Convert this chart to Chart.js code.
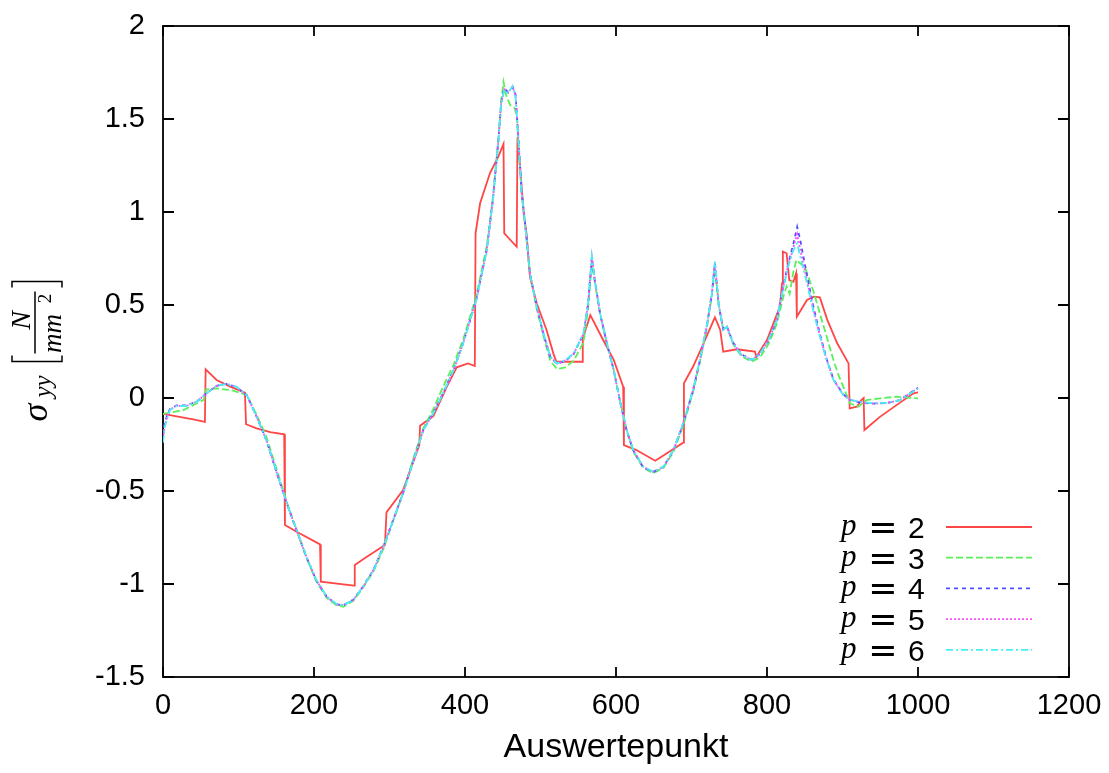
<!DOCTYPE html>
<html>
<head>
<meta charset="utf-8">
<title>sigma_yy</title>
<script src="https://cdn.jsdelivr.net/npm/chart.js@4.4.1/dist/chart.umd.min.js"></script>
<style>
  html, body { margin: 0; padding: 0; background: #fff; }
  #chart { display: block; }
</style>
</head>
<body>
<canvas id="chart" width="1109" height="773"></canvas>
<script>
// axis ticks
const xTicks = [0, 200, 400, 600, 800, 1000, 1200];
const yTicks = [-1.5, -1, -0.5, 0, 0.5, 1, 1.5, 2];

// p = 2 (piecewise, jumps at element borders)
const p2X = [0, 20, 40, 55.5, 56.5, 71, 89, 108.5, 110, 124,
  142, 160.5, 161.5, 177, 208, 209, 253, 254, 270, 294,
  296, 318, 339.5, 340.5, 358, 376, 389, 404, 413, 414,
  420, 433, 444, 451, 452, 468.5, 469.5, 473, 478, 481.5,
  486, 495, 508, 517, 521, 555, 556, 566, 583, 597,
  609.5, 610.5, 627, 652, 671, 689, 690, 702, 716, 731,
  738, 742, 760, 784, 786, 800, 817, 820, 821, 826,
  829.5, 835, 838.5, 839.5, 853, 862, 870, 880, 893, 908,
  909.5, 919, 925, 928, 929, 950, 972, 994, 1000];
const p2Y = [-0.085, -0.1, -0.115, -0.128, 0.154, 0.097, 0.061, 0.029, -0.141, -0.163,
  -0.184, -0.195, -0.683, -0.719, -0.787, -0.988, -1.009, -0.898, -0.853, -0.79,
  -0.615, -0.495, -0.253, -0.149, -0.097, 0.061, 0.165, 0.186, 0.172, 0.885,
  1.047, 1.208, 1.297, 1.366, 0.885, 0.813, 1.40, 1.244, 0.98, 0.885,
  0.652, 0.509, 0.366, 0.24, 0.195, 0.195, 0.32, 0.446, 0.312, 0.205,
  0.061, -0.253, -0.28, -0.337, -0.288, -0.24, 0.079, 0.168, 0.294, 0.434,
  0.366, 0.249, 0.262, 0.249, 0.222, 0.312, 0.491, 0.617, 0.787, 0.778,
  0.634, 0.625, 0.67, 0.437, 0.527, 0.545, 0.541, 0.419, 0.294, 0.186,
  -0.056, -0.047, -0.011, 0.0, -0.172, -0.1, -0.037, 0.025, 0.03];

// p = 3
const p3X = [0, 27, 49, 54, 57, 71, 93, 111, 124, 137,
  151, 164, 177, 190, 203, 217, 230, 239, 252, 265,
  279, 292, 305, 318, 332, 345, 358, 371, 385, 398,
  415, 429, 437, 444, 448, 451, 455, 460, 466, 469,
  471, 475, 480, 486, 495, 504, 513, 522, 533, 544,
  557, 563, 568, 572, 579, 588, 597, 605, 614, 623,
  636, 649, 663, 676, 689, 702, 711, 720, 727, 731,
  736, 742, 747, 755, 766, 780, 791, 802, 813, 822,
  826, 830, 835, 839, 845, 850, 861, 870, 879, 888,
  895, 901, 910, 921, 932, 950, 972, 1000];
const p3Y = [-0.085, -0.065, -0.02, -0.01, 0.045, 0.052, 0.04, 0.016, -0.09, -0.21,
  -0.39, -0.56, -0.71, -0.86, -0.985, -1.075, -1.115, -1.122, -1.09, -1.02,
  -0.93, -0.81, -0.66, -0.51, -0.32, -0.16, -0.06, 0.06, 0.18, 0.32,
  0.55, 0.82, 1.08, 1.38, 1.6, 1.7, 1.62, 1.575, 1.557, 1.5,
  1.35, 1.1, 0.92, 0.67, 0.48, 0.33, 0.2, 0.155, 0.165, 0.2,
  0.3, 0.48, 0.72, 0.62, 0.45, 0.29, 0.15, -0.01, -0.17, -0.29,
  -0.375, -0.405, -0.375, -0.29, -0.15, 0.03, 0.19, 0.37, 0.55, 0.7,
  0.5, 0.37, 0.38, 0.29, 0.225, 0.195, 0.22, 0.29, 0.4, 0.55,
  0.6, 0.56, 0.68, 0.742, 0.72, 0.706, 0.58, 0.455, 0.33, 0.204,
  0.12, 0.061, -0.029, -0.047, -0.011, -0.002, 0.007, -0.002];

// p = 4, 5, 6 share the evaluation points
const pX = [0, 2, 5, 9, 18, 31, 45, 58, 71, 84,
  97, 111, 124, 137, 151, 164, 177, 190, 203, 217,
  230, 239, 252, 265, 279, 292, 305, 318, 332, 345,
  358, 371, 385, 398, 415, 429, 437, 444, 448, 452,
  457, 463, 467, 471, 475, 480, 486, 495, 504, 513,
  522, 533, 544, 557, 563, 568, 572, 579, 588, 597,
  605, 614, 623, 636, 649, 663, 676, 689, 702, 711,
  720, 727, 731, 736, 742, 747, 755, 766, 780, 791,
  802, 813, 822, 828, 835, 840, 844, 852, 861, 870,
  879, 888, 901, 910, 923, 941, 959, 976, 990, 998, 1000];
const p4Y = [-0.20, -0.14, -0.10, -0.06, -0.04, -0.04, -0.018, 0.027, 0.066, 0.076,
  0.06, 0.014, -0.10, -0.228, -0.407, -0.568, -0.712, -0.855, -0.98, -1.07,
  -1.11, -1.114, -1.085, -1.013, -0.922, -0.797, -0.653, -0.51, -0.33, -0.17,
  -0.08, 0.027, 0.153, 0.30, 0.53, 0.80, 1.07, 1.375, 1.59, 1.665,
  1.645, 1.672, 1.63, 1.38, 1.11, 0.925, 0.672, 0.49, 0.345, 0.22,
  0.184, 0.2, 0.237, 0.345, 0.505, 0.755, 0.63, 0.452, 0.292, 0.15,
  -0.012, -0.174, -0.283, -0.372, -0.398, -0.37, -0.282, -0.138, 0.04, 0.2,
  0.38, 0.56, 0.725, 0.5, 0.37, 0.385, 0.30, 0.235, 0.205, 0.238,
  0.31, 0.42, 0.61, 0.72, 0.83, 0.92, 0.85, 0.68, 0.5, 0.345,
  0.21, 0.1, 0.02, -0.01, -0.025, -0.03, -0.027, -0.012, 0.028, 0.05, 0.055];
const p5Y = [-0.22, -0.15, -0.11, -0.063, -0.042, -0.042, -0.019, 0.026, 0.065, 0.076,
  0.06, 0.015, -0.10, -0.227, -0.406, -0.567, -0.711, -0.854, -0.979, -1.069,
  -1.109, -1.113, -1.085, -1.014, -0.923, -0.798, -0.654, -0.511, -0.331, -0.171,
  -0.081, 0.026, 0.152, 0.30, 0.528, 0.798, 1.067, 1.372, 1.587, 1.66,
  1.64, 1.675, 1.625, 1.375, 1.105, 0.923, 0.671, 0.49, 0.346, 0.221,
  0.185, 0.202, 0.238, 0.346, 0.507, 0.758, 0.632, 0.453, 0.293, 0.15,
  -0.012, -0.173, -0.282, -0.37, -0.397, -0.37, -0.281, -0.137, 0.042, 0.202,
  0.382, 0.562, 0.73, 0.505, 0.368, 0.384, 0.297, 0.233, 0.204, 0.239,
  0.311, 0.42, 0.605, 0.712, 0.81, 0.88, 0.8, 0.65, 0.485, 0.337,
  0.207, 0.098, 0.018, -0.01, -0.022, -0.03, -0.026, -0.011, 0.026, 0.048, 0.05];
const p6Y = [-0.24, -0.16, -0.118, -0.065, -0.043, -0.043, -0.02, 0.025, 0.065, 0.075,
  0.061, 0.016, -0.10, -0.226, -0.405, -0.566, -0.71, -0.853, -0.978, -1.068,
  -1.108, -1.113, -1.086, -1.015, -0.925, -0.80, -0.656, -0.513, -0.333, -0.172,
  -0.082, 0.025, 0.151, 0.30, 0.527, 0.796, 1.065, 1.369, 1.584, 1.656,
  1.638, 1.677, 1.62, 1.369, 1.10, 0.921, 0.67, 0.491, 0.348, 0.222,
  0.186, 0.204, 0.24, 0.348, 0.509, 0.76, 0.634, 0.455, 0.294, 0.151,
  -0.011, -0.172, -0.28, -0.369, -0.396, -0.369, -0.28, -0.136, 0.043, 0.204,
  0.383, 0.563, 0.733, 0.509, 0.366, 0.383, 0.294, 0.231, 0.204, 0.24,
  0.312, 0.419, 0.599, 0.706, 0.796, 0.832, 0.76, 0.634, 0.473, 0.33,
  0.204, 0.097, 0.016, -0.01, -0.02, -0.029, -0.025, -0.011, 0.025, 0.045, 0.05];

const pts = (xs, ys) => xs.map((x, i) => ({ x: x, y: ys[i] }));

function series(label, xs, ys, color, dash, order) {
    return {
        label: label,
        data: pts(xs, ys),
        borderColor: color,
        borderWidth: 1.8,
        borderDash: dash,
        pointRadius: 0,
        fill: false,
        tension: 0,
        order: order,
    };
}

const datasets = [
    series("p = 2", p2X, p2Y, "rgb(255, 70, 70)", [], 5),
    series("p = 3", p3X, p3Y, "rgb(90, 240, 90)", [7, 3], 4),
    series("p = 4", pX, p4Y, "rgb(80, 80, 255)", [4, 4], 3),
    series("p = 5", pX, p5Y, "rgb(255, 80, 255)", [2, 2], 2),
    series("p = 6", pX, p6Y, "rgb(70, 240, 240)", [7, 3, 2, 3], 1),
];

// border box with inward ticks on all four sides
const frame = {
    id: "frame",
    beforeDatasetsDraw(chart) {
        const { ctx, chartArea: a, scales } = chart;
        ctx.save();
        ctx.strokeStyle = "#000";
        ctx.lineWidth = 1.8;
        ctx.strokeRect(a.left, a.top, a.right - a.left, a.bottom - a.top);
        ctx.beginPath();
        xTicks.forEach((v) => {
            const px = scales.x.getPixelForValue(v);
            ctx.moveTo(px, a.bottom);
            ctx.lineTo(px, a.bottom - 10);
            ctx.moveTo(px, a.top);
            ctx.lineTo(px, a.top + 10);
        });
        yTicks.forEach((v) => {
            const py = scales.y.getPixelForValue(v);
            ctx.moveTo(a.left, py);
            ctx.lineTo(a.left + 11, py);
            ctx.moveTo(a.right, py);
            ctx.lineTo(a.right - 11, py);
        });
        ctx.stroke();
        ctx.restore();
    },
};

// key in the lower right corner
const key = {
    id: "key",
    afterDatasetsDraw(chart) {
        const { ctx, chartArea: a } = chart;
        ctx.save();
        ctx.fillStyle = "#000";
        ctx.textBaseline = "alphabetic";
        chart.data.datasets.forEach((ds, i) => {
            const yy = a.bottom - 150 + i * 30.7;
            const n = ds.label.split("= ")[1];
            ctx.font = 'italic 31px "Liberation Serif"';
            ctx.textAlign = "left";
            ctx.fillText("p", a.right - 228, yy + 8);
            ctx.font = '35px "DejaVu Sans"';
            ctx.textAlign = "center";
            ctx.fillText("=", a.right - 186, yy + 12);
            ctx.font = '30px "Liberation Sans"';
            ctx.textAlign = "left";
            ctx.fillText(n, a.right - 161, yy + 11);

            ctx.beginPath();
            ctx.strokeStyle = ds.borderColor;
            ctx.lineWidth = ds.borderWidth;
            ctx.setLineDash(ds.borderDash);
            ctx.moveTo(a.right - 123, yy);
            ctx.lineTo(a.right - 37, yy);
            ctx.stroke();
            ctx.setLineDash([]);
        });
        ctx.restore();
    },
};

// rotated y axis label: sigma_yy [N / mm^2]
const yLabel = {
    id: "yLabel",
    afterDraw(chart) {
        const { ctx, chartArea: a } = chart;
        ctx.save();
        ctx.translate(37, (a.top + a.bottom) / 2 + 70);
        ctx.rotate(-Math.PI / 2);
        ctx.fillStyle = "#000";
        ctx.strokeStyle = "#000";
        ctx.textBaseline = "alphabetic";
        ctx.textAlign = "left";
        ctx.font = 'italic 36px "Liberation Serif"';
        ctx.fillText("σ", 0, 10);
        ctx.font = 'italic 25px "Liberation Serif"';
        ctx.fillText("yy", 24, 14);

        ctx.lineWidth = 1.5;
        ctx.beginPath();
        ctx.moveTo(66, -25);
        ctx.lineTo(60, -25);
        ctx.lineTo(60, 25);
        ctx.lineTo(66, 25);
        ctx.moveTo(134, -25);
        ctx.lineTo(140, -25);
        ctx.lineTo(140, 25);
        ctx.lineTo(134, 25);
        ctx.moveTo(68, -2);
        ctx.lineTo(130, -2);
        ctx.stroke();

        ctx.textAlign = "center";
        ctx.font = 'italic 28px "Liberation Serif"';
        ctx.fillText("N", 101, -7);
        ctx.font = 'italic 27px "Liberation Serif"';
        ctx.fillText("mm", 88, 24);
        ctx.font = '19px "Liberation Serif"';
        ctx.fillText("2", 123, 14);
        ctx.restore();
    },
};

const config = {
    type: "line",
    data: { datasets: datasets },
    options: {
        responsive: false,
        animation: false,
        devicePixelRatio: 1,
        layout: { padding: { top: 26, right: 40, left: 0, bottom: 0 } },
        plugins: {
            legend: { display: false },
            tooltip: { enabled: false },
        },
        scales: {
            x: {
                type: "linear",
                min: 0,
                max: 1200,
                afterBuildTicks: (scale) => {
                    scale.ticks = xTicks.map((v) => ({ value: v }));
                },
                afterFit: (scale) => {
                    scale.height = 96;
                    scale.paddingLeft = 0;
                    scale.paddingRight = 0;
                },
                grid: { display: false, drawTicks: false },
                border: { display: false },
                ticks: {
                    color: "#000",
                    padding: 12,
                    maxRotation: 0,
                    font: { family: "Liberation Sans", size: 29 },
                    callback: (v) => String(v),
                },
                title: {
                    display: true,
                    text: "Auswertepunkt",
                    color: "#000",
                    font: { family: "Liberation Sans", size: 34 },
                    padding: { top: 0, bottom: 5 },
                },
            },
            y: {
                type: "linear",
                min: -1.5,
                max: 2,
                afterBuildTicks: (scale) => {
                    scale.ticks = yTicks.map((v) => ({ value: v }));
                },
                afterFit: (scale) => {
                    scale.width = 163;
                    scale.paddingTop = 0;
                    scale.paddingBottom = 0;
                },
                grid: { display: false, drawTicks: false },
                border: { display: false },
                ticks: {
                    color: "#000",
                    padding: 18,
                    font: { family: "Liberation Sans", size: 29 },
                    callback: (v) => String(v),
                },
            },
        },
    },
    plugins: [frame, key, yLabel],
};

const canvas = document.getElementById("chart");
if (canvas) {
    new Chart(canvas, config);
}
</script>
</body>
</html>
